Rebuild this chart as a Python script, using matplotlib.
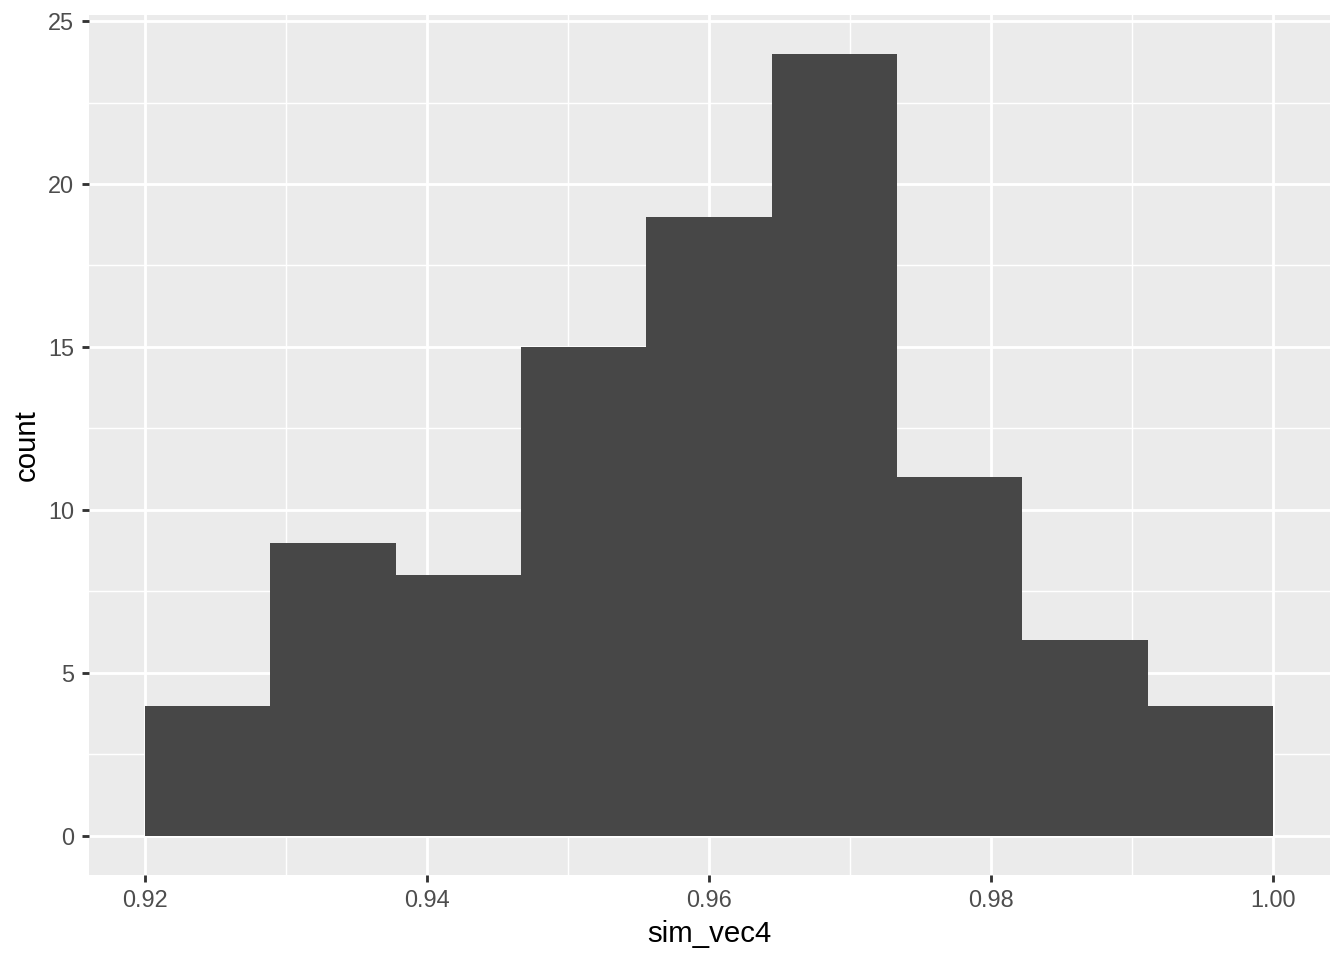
import matplotlib
matplotlib.use("Agg")
import matplotlib.pyplot as plt
import numpy as np

# Histogram data (bin edges span 0.92 .. 1.00, 9 bins)
bin_start = 0.92
bin_end = 1.00
counts = [4, 9, 8, 15, 19, 24, 11, 6, 4]
x_ticks = [0.92, 0.94, 0.96, 0.98, 1.00]
x_ticklabels = ["0.92", "0.94", "0.96", "0.98", "1.00"]
y_ticks = [0, 5, 10, 15, 20, 25]
x_label = "sim_vec4"
y_label = "count"

plt.rcParams['font.family'] = ['Liberation Sans', 'DejaVu Sans']

edges = np.linspace(bin_start, bin_end, len(counts) + 1)
widths = np.diff(edges)

fig = plt.figure(figsize=(7, 5), dpi=192)
ax = fig.add_axes([88.5/1344, 1 - 875/960, (1329.5-88.5)/1344, (875-14.5)/960])
ax.set_facecolor('#EBEBEB')

ax.bar(edges[:-1], counts, width=widths, align='edge', color='#474747', linewidth=0, zorder=3)

xr = bin_end - bin_start
ax.set_xlim(bin_start - 0.05*xr, bin_end + 0.05*xr)
ymax = max(counts)
ax.set_ylim(-0.05*ymax, ymax*1.05)

ax.set_xticks(x_ticks)
ax.set_xticklabels(x_ticklabels)
ax.set_yticks(y_ticks)
ax.set_xticks([(a+b)/2 for a, b in zip(x_ticks[:-1], x_ticks[1:])], minor=True)
ax.set_yticks([(a+b)/2 for a, b in zip(y_ticks[:-1], y_ticks[1:])], minor=True)

ax.grid(which='major', color='white', linewidth=1.07, zorder=1)
ax.grid(which='minor', color='white', linewidth=0.53, zorder=1)
ax.set_axisbelow(True)

for s in ax.spines.values():
    s.set_visible(False)

ax.tick_params(which='major', length=2.75, width=1.07, color='#333333',
               labelsize=8.8, labelcolor='#4D4D4D', pad=2.6)
ax.tick_params(which='minor', length=0)

ax.set_xlabel(x_label, fontsize=11, color='black', labelpad=2.75)
ax.set_ylabel(y_label, fontsize=11, color='black', labelpad=2.75)

fig.savefig("out.png", dpi=192)
